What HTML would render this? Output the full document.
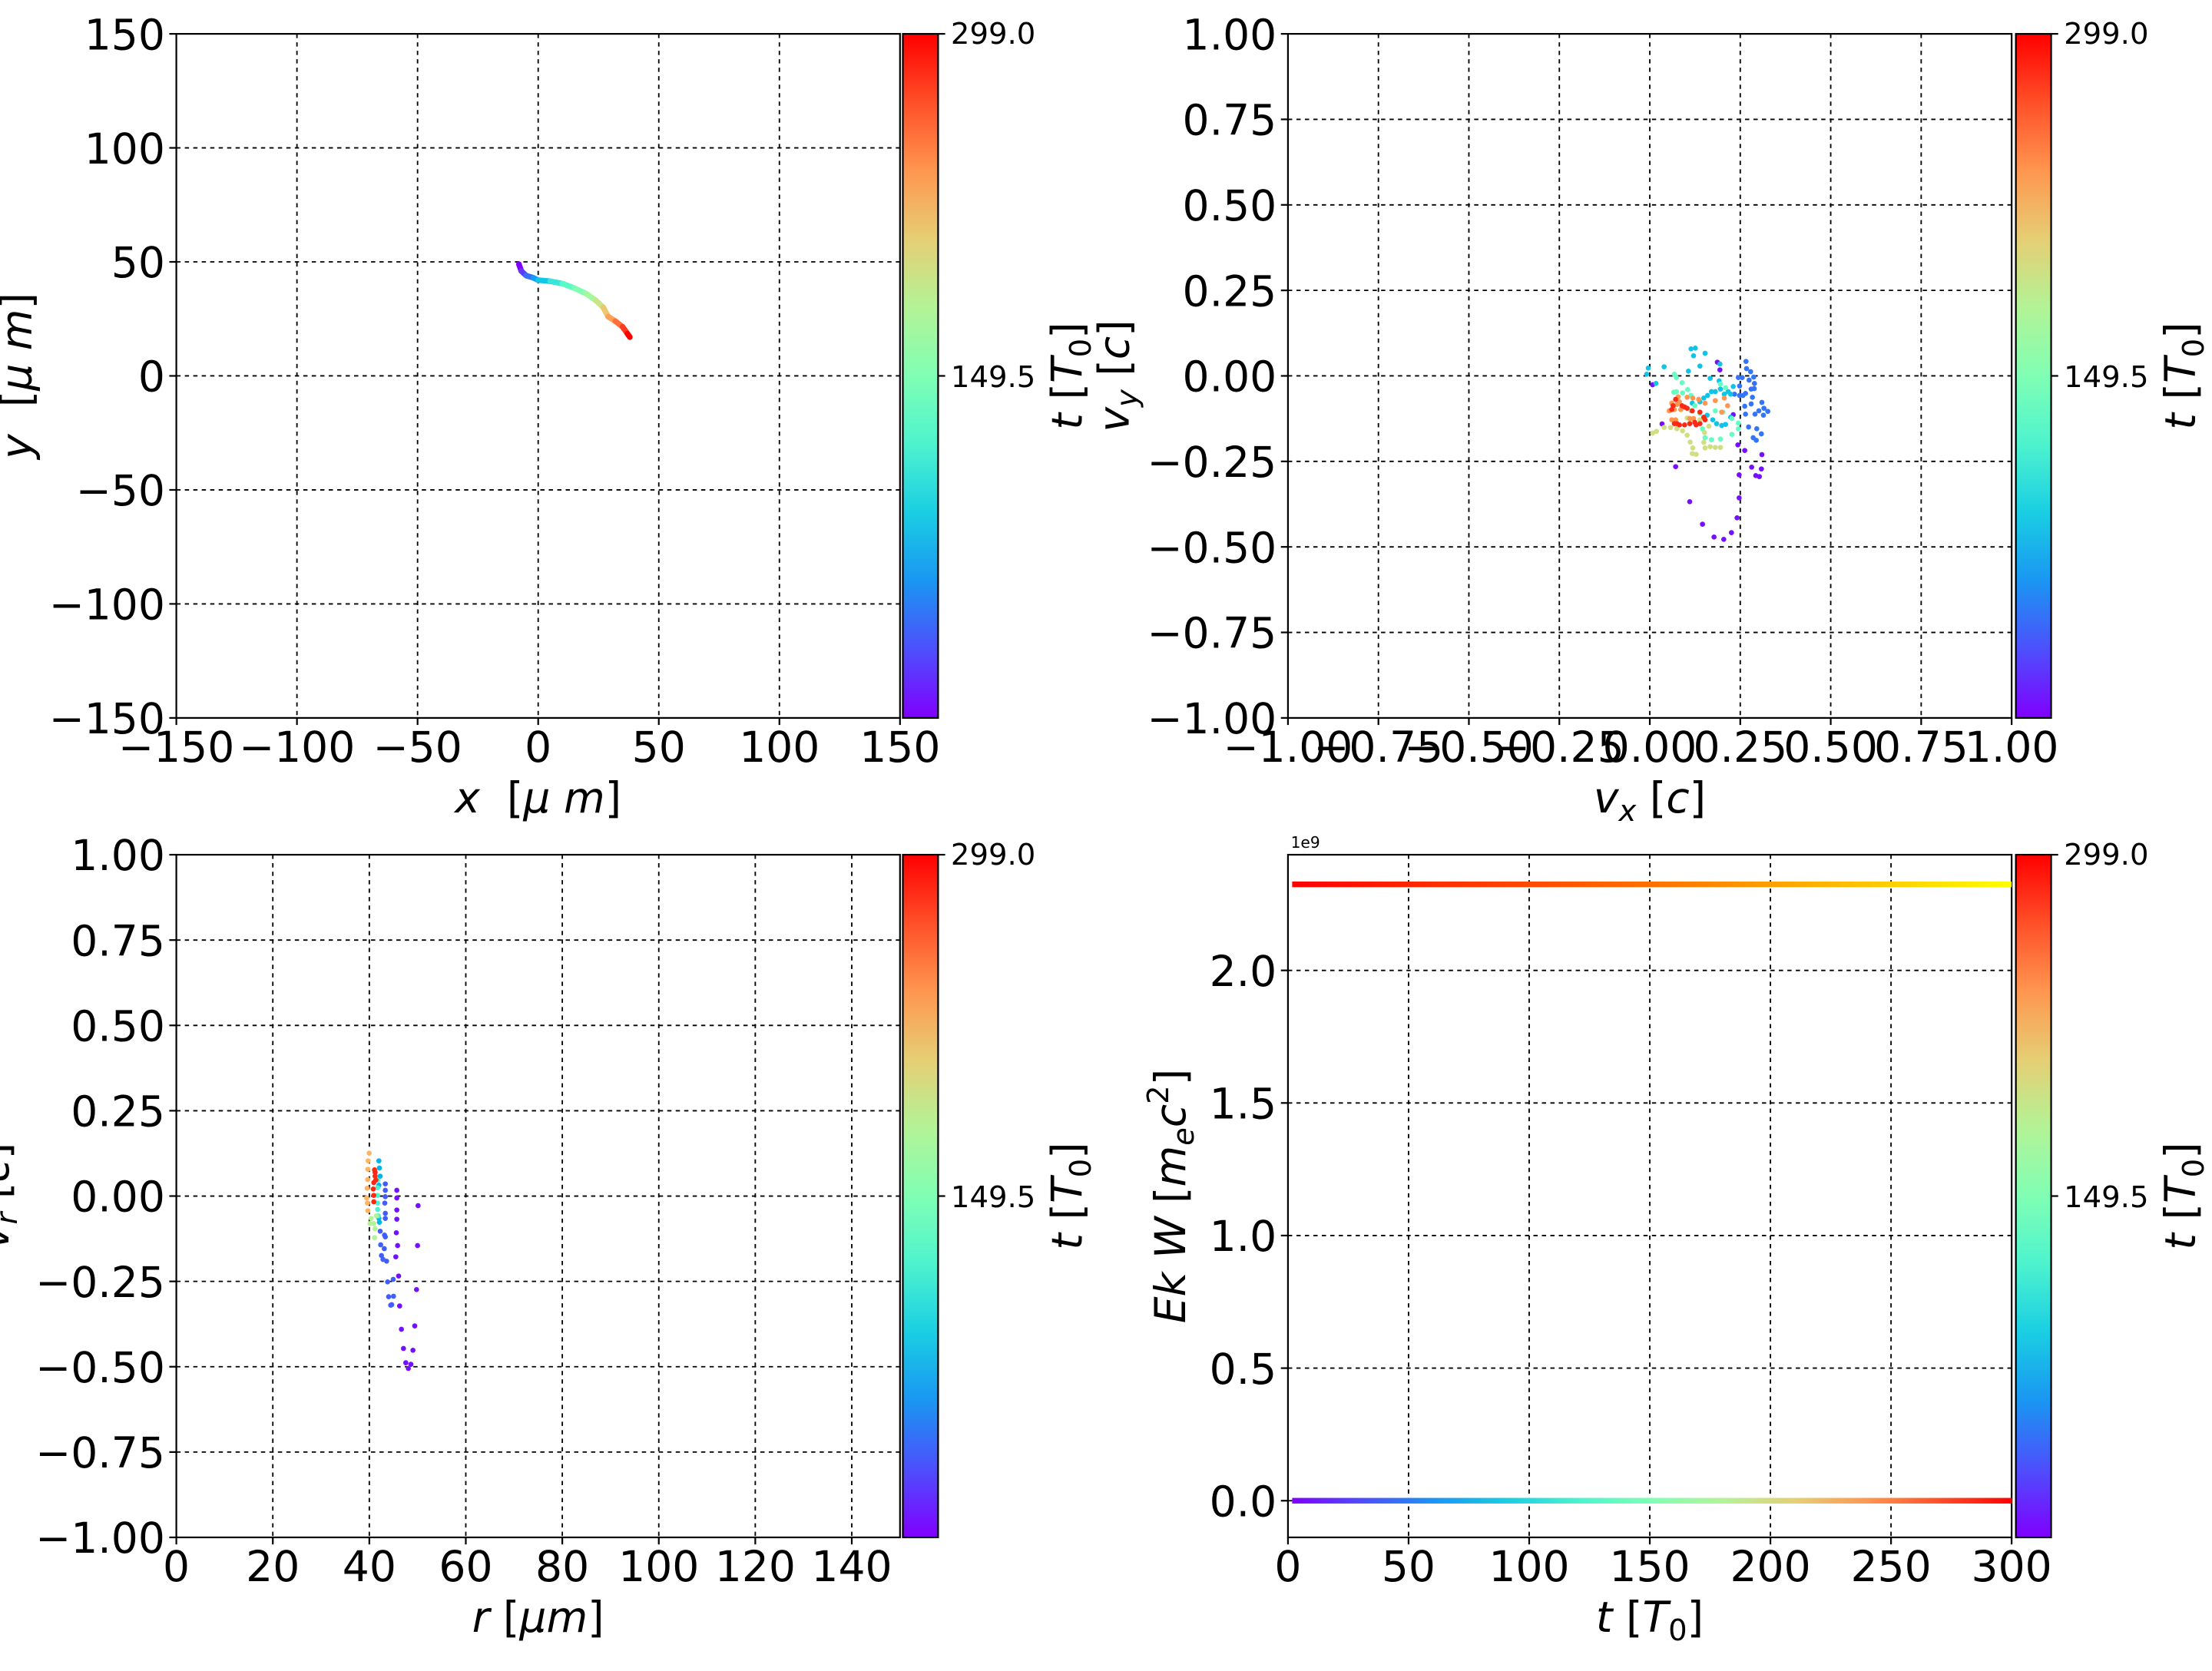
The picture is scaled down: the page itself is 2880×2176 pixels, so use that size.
<!DOCTYPE html>
<html><head><meta charset="utf-8"><style>
html,body{margin:0;padding:0;background:#fff;}
svg{display:block;}
text{font-family:"DejaVu Sans","Liberation Sans",sans-serif;fill:#000;}
.t{font-size:30px;}
.c{font-size:21px;}
.g{stroke:#000;stroke-width:1;stroke-dasharray:3,3;fill:none;}
.ax{stroke:#000;stroke-width:1.2;fill:none;}
</style></head><body>
<svg id="s" width="2880" height="2176" viewBox="0 0 2880 2176" xmlns="http://www.w3.org/2000/svg">
<defs>
<linearGradient id="cb" x1="0" y1="1" x2="0" y2="0">
<stop offset="0" stop-color="#8000ff"/><stop offset="0.1" stop-color="#4d4ffc"/><stop offset="0.2" stop-color="#1a96f2"/><stop offset="0.3" stop-color="#1acee3"/><stop offset="0.4" stop-color="#4df3ce"/><stop offset="0.5" stop-color="#80ffb4"/><stop offset="0.6" stop-color="#b3f396"/><stop offset="0.7" stop-color="#e6ce74"/><stop offset="0.8" stop-color="#ff964f"/><stop offset="0.9" stop-color="#ff4f28"/><stop offset="1" stop-color="#ff0000"/>
</linearGradient>
<linearGradient id="hb" x1="0" y1="0" x2="1" y2="0">
<stop offset="0" stop-color="#8000ff"/><stop offset="0.1" stop-color="#4d4ffc"/><stop offset="0.2" stop-color="#1a96f2"/><stop offset="0.3" stop-color="#1acee3"/><stop offset="0.4" stop-color="#4df3ce"/><stop offset="0.5" stop-color="#80ffb4"/><stop offset="0.6" stop-color="#b3f396"/><stop offset="0.7" stop-color="#e6ce74"/><stop offset="0.8" stop-color="#ff964f"/><stop offset="0.9" stop-color="#ff4f28"/><stop offset="1" stop-color="#ff0000"/>
</linearGradient>
<linearGradient id="ry" x1="0" y1="0" x2="1" y2="0">
<stop offset="0" stop-color="#ff0000"/><stop offset="0.5" stop-color="#ff7000"/><stop offset="1" stop-color="#ffff00"/>
</linearGradient>
</defs>
<g id="m" transform="scale(1.8367,1.8367)"></g>
<g id="p2" transform="translate(2000,400) scale(0.3333)"></g>
<g id="p3" transform="translate(440,1460) scale(0.3333)"></g>
</svg>
<script>
var NS="http://www.w3.org/2000/svg";
var m=document.getElementById("m");
function el(tag,attrs,txt,parent){var e=document.createElementNS(NS,tag);for(var k in attrs)e.setAttribute(k,attrs[k]);if(txt!==undefined&&txt!==null)e.textContent=txt;(parent||m).appendChild(e);return e;}
function rb(x){var r=Math.min(1,Math.abs(2*x-0.5)),g=Math.sin(Math.PI*x),b=Math.cos(Math.PI*x/2);return "rgb("+Math.round(r*255)+","+Math.round(g*255)+","+Math.round(b*255)+")";}
function axes(L,T,R,B,xt,yt,xlab,ylab,ylx,cbx){
  xt.forEach(function(a){ if(a[0]>L+1&&a[0]<R-1) el("line",{x1:a[0],x2:a[0],y1:T,y2:B,"class":"g"});
    el("line",{x1:a[0],x2:a[0],y1:B,y2:B+5,"class":"ax"});
    el("text",{x:a[0],y:B+31,"class":"t","text-anchor":"middle"},a[1]);});
  yt.forEach(function(a){ if(a[0]>T+1&&a[0]<B-1) el("line",{x1:L,x2:R,y1:a[0],y2:a[0],"class":"g"});
    el("line",{x1:L-5,x2:L,y1:a[0],y2:a[0],"class":"ax"});
    el("text",{x:L-8,y:a[0]+11,"class":"t","text-anchor":"end"},a[1]);});
  el("rect",{x:L,y:T,width:R-L,height:B-T,"class":"ax"});
  var cx=(L+R)/2;
  var xl=el("text",{x:cx,y:B+67,"class":"t","text-anchor":"middle"});xl.innerHTML=xlab;
  var yl=el("text",{x:0,y:0,"class":"t","text-anchor":"middle",transform:"translate("+ylx+","+((T+B)/2)+") rotate(-90)"});yl.innerHTML=ylab;
  el("rect",{x:cbx,y:T,width:25,height:B-T,fill:"url(#cb)"});
  el("rect",{x:cbx,y:T,width:25,height:B-T,"class":"ax"});
  el("line",{x1:cbx+25,x2:cbx+30,y1:T,y2:T,"class":"ax"});
  el("line",{x1:cbx+25,x2:cbx+30,y1:(T+B)/2,y2:(T+B)/2,"class":"ax"});
  el("text",{x:cbx+34,y:T+7,"class":"c"},"299.0");
  el("text",{x:cbx+34,y:(T+B)/2+8,"class":"c"},"149.5");
  var cl=el("text",{x:0,y:0,"class":"t","text-anchor":"middle",transform:"translate("+(cbx+127)+","+((T+B)/2)+") rotate(-90)"});
  cl.innerHTML='<tspan font-style="italic">t</tspan> [<tspan font-style="italic">T</tspan><tspan font-size="21" dy="6">0</tspan><tspan dy="-6">]</tspan>';
}
(function(){
 var L=125,R=638,T=24,B=509;
 var xt=[],yt=[];[-150,-100,-50,0,50,100,150].forEach(function(v){xt.push([L+(v+150)*(R-L)/300,v<0?"\u2212"+(-v):""+v]);yt.push([B-(v+150)*(B-T)/300,v<0?"\u2212"+(-v):""+v]);});
 axes(L,T,R,B,xt,yt,'<tspan font-style="italic">x</tspan>\u00a0\u00a0[<tspan font-style="italic">\u03bc m</tspan>]','<tspan font-style="italic">y</tspan>\u00a0\u00a0[<tspan font-style="italic">\u03bc m</tspan>]',22,640);
 var pts=[[-8,49],[-7,46],[-5,44],[-2,43],[0,42],[5,41.5],[10,40.5],[15,38.5],[20,36],[24,33],[27,30],[29,26],[32,24],[35,21.5],[37,18.5],[38,17]];
 var N=pts.length;
 for(var i=0;i<N-1;i++){
  var a=pts[i],b=pts[i+1];
  el("line",{x1:L+(a[0]+150)*1.71,y1:B-(a[1]+150)*485/300,x2:L+(b[0]+150)*1.71,y2:B-(b[1]+150)*485/300,stroke:rb(i/(N-2)),"stroke-width":4,"stroke-linecap":"round"});
 }
})();
(function(){
 var L=913,R=1426,T=24,B=509;
 var lab=["\u22121.00","\u22120.75","\u22120.50","\u22120.25","0.00","0.25","0.50","0.75","1.00"];
 var xt=[],yt=[];for(var i=0;i<9;i++){xt.push([L+i*(R-L)/8,lab[i]]);yt.push([B-i*(B-T)/8,lab[i]]);}
 axes(L,T,R,B,xt,yt,'<tspan font-style="italic">v</tspan><tspan font-size="21" dy="6" font-style="italic">x</tspan><tspan dy="-6"> [</tspan><tspan font-style="italic">c</tspan>]','<tspan font-style="italic">v</tspan><tspan font-size="21" dy="6" font-style="italic">y</tspan><tspan dy="-6"> [</tspan><tspan font-style="italic">c</tspan>]',800,1429);
})();
(function(){
 var L=125,R=638,T=606,B=1090;
 var lab=["\u22121.00","\u22120.75","\u22120.50","\u22120.25","0.00","0.25","0.50","0.75","1.00"];
 var xt=[],yt=[];for(var i=0;i<9;i++){yt.push([B-i*(B-T)/8,lab[i]]);}
 for(var v=0;v<=140;v+=20)xt.push([L+v*(R-L)/150,""+v]);
 axes(L,T,R,B,xt,yt,'<tspan font-style="italic">r</tspan> [<tspan font-style="italic">\u03bcm</tspan>]','<tspan font-style="italic">v</tspan><tspan font-size="21" dy="6" font-style="italic">r</tspan><tspan dy="-6"> [</tspan><tspan font-style="italic">c</tspan>]',6,640);
})();
(function(){
 var L=913,R=1426,T=606,B=1090;
 var xt=[],yt=[];for(var v=0;v<=300;v+=50)xt.push([L+v*(R-L)/300,""+v]);
 ["0.0","0.5","1.0","1.5","2.0"].forEach(function(s,i){yt.push([1064-i*94,s]);});
 axes(L,T,R,B,xt,yt,'<tspan font-style="italic">t</tspan> [<tspan font-style="italic">T</tspan><tspan font-size="21" dy="6">0</tspan><tspan dy="-6">]</tspan>','<tspan font-style="italic">Ek W</tspan> [<tspan font-style="italic">m</tspan><tspan font-size="21" dy="6" font-style="italic">e</tspan><tspan dy="-6" font-style="italic">c</tspan><tspan font-size="21" dy="-12">2</tspan><tspan dy="12">]</tspan>',840,1429);
 el("text",{x:915,y:601,"font-size":"11"},"1e9");
 el("rect",{x:916,y:625,width:510,height:4,fill:"url(#ry)"});
 el("rect",{x:916,y:1062,width:510,height:4,fill:"url(#hb)"});
})();
var P2={0.02:[[545,623],[600,760],[650,848],[695,898],[733,907],[763,881],[785,823],[793,745],[793,655],[788,538],[815,560],[455,303],[492,456],[770,420],[708,215],[718,245],[842,625],[880,632],[858,658],[872,662],[882,576]],
0.15:[[820,212],[822,240],[838,252],[850,273],[832,285],[853,298],[840,320],[852,318],[818,337],[845,352],[870,405],[882,372],[890,395],[905,407],[855,418],[888,422],[818,418],[840,378],[815,387],[830,468],[862,475],[880,495],[848,510],[860,520],[805,275],[790,275],[795,308],[808,345],[795,345],[775,340]],
0.28:[[605,163],[622,160],[615,190],[660,180],[640,230],[595,250],[500,233],[438,238],[432,262],[468,298],[680,278],[718,222],[715,288],[720,320],[700,330],[685,330],[670,345],[655,355],[640,370],[610,375],[735,340],[760,340],[750,330],[770,310],[760,430],[740,458],[725,462],[705,455],[690,440],[668,422]],
0.45:[[540,262],[548,275],[570,295],[592,322],[538,332],[548,330],[572,335],[605,345],[720,300],[740,315],[765,435],[790,453],[790,475],[765,497],[720,515],[685,518],[660,510],[650,475],[605,405],[620,385],[640,415],[700,405],[730,410]],
0.66:[[455,492],[470,485],[500,470],[525,470],[550,475],[572,483],[590,500],[602,527],[612,550],[610,572],[625,575],[660,550],[680,545],[700,548],[720,548],[655,528],[658,490],[675,465],[640,440],[605,440],[590,433]],
0.8:[[590,352],[612,355],[635,360],[660,375],[700,365],[735,355],[748,385],[725,410],[530,375],[520,405],[530,440],[545,440],[555,350],[560,370],[565,400],[600,435],[615,435],[540,400],[550,380]],
0.95:[[540,455],[560,460],[580,460],[600,455],[620,450],[640,455],[660,440],[655,430],[640,410],[610,405],[580,390],[570,385],[590,395],[535,385],[530,400],[545,360],[550,455],[625,460]]};
var g2=document.getElementById("p2");
for(var k in P2)P2[k].forEach(function(p){el("circle",{cx:p[0],cy:p[1],r:10,fill:rb(+k)},null,g2);});
var P3={0.02:[[230,270],[230,300],[313,330],[230,347],[230,383],[228,436],[233,486],[311,486],[226,530],[237,605],[307,658],[241,722],[248,813],[300,800],[256,888],[293,895],[265,944],[285,950],[275,966]],
0.12:[[185,245],[185,270],[185,295],[183,320],[185,360],[185,380],[165,430],[182,445],[185,452],[167,483],[181,498],[170,525],[176,540],[190,547],[194,628],[216,618],[198,686],[217,684],[206,719],[210,717]],
0.25:[[160,155],[162,183],[165,215],[160,250],[160,380],[162,395]],
0.4:[[155,230],[155,260],[155,290],[155,320],[155,345],[158,370]],
0.6:[[140,400],[145,420],[143,455],[130,380],[125,400],[150,370]],
0.75:[[122,125],[118,155],[117,188],[116,228],[114,262],[112,300],[115,320],[117,350]],
0.95:[[143,190],[145,215],[140,240],[138,265],[140,290],[140,315],[145,200],[148,230]]};
var g3=document.getElementById("p3");
for(var k in P3)P3[k].forEach(function(p){el("circle",{cx:p[0],cy:p[1],r:10,fill:rb(+k)},null,g3);});
</script>
</body></html>
